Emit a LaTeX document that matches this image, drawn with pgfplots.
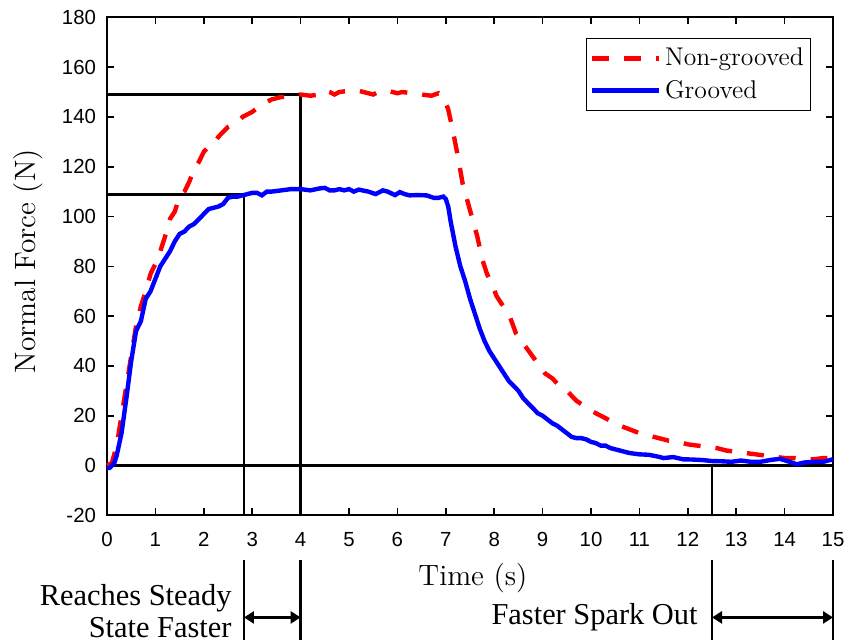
\documentclass[border=0pt]{standalone}
\usepackage{fontspec}
\usepackage{pgfplots}
\pgfplotsset{compat=1.18}
\usetikzlibrary{arrows.meta}
\newfontfamily\ticksf{Liberation Sans}
\newfontfamily\annsf{Liberation Serif}
\pgfplotstableread{
t f
0 0
0.1 1
0.2 8
0.3 20
0.4 32
0.5 44
0.6 56
0.7 64
0.8 70
0.9 77
1.0 81
1.1 86
1.2 92
1.3 99
1.4 102
1.5 108
1.6 110
1.7 114
1.8 119
1.9 122
2.0 126
2.1 128
2.2 129
2.3 132
2.4 134
2.5 136
2.6 137
2.7 138
2.8 140
2.9 141
3.0 142
3.1 143.5
3.2 145
3.3 146
3.4 147
3.5 147.5
3.6 148
3.7 148
3.8 148.5
3.9 149
4.0 149
4.2 148.5
4.4 149
4.5 150.5
4.6 150
4.7 149
4.8 150
5.0 150.5
5.2 150.5
5.4 149.5
5.5 149
5.6 150
5.8 150.5
6.0 149.5
6.1 150
6.3 149.5
6.5 149
6.7 148.5
6.85 149.5
6.95 148
7.05 143
7.15 134
7.25 124
7.35 113
7.45 106
7.55 99
7.65 92
7.75 83
7.85 77
7.95 73
8.05 68
8.15 65
8.3 61
8.45 53
8.6 49
8.75 45
8.9 41
9.05 37
9.2 35
9.35 32
9.5 30
9.7 26
9.85 24
10.0 22
10.2 20
10.4 18
10.6 16
10.8 14.5
11.0 13
11.2 12
11.4 11
11.6 10
11.8 9.5
12.0 8.5
12.2 8
12.4 7.5
12.6 7
12.8 6
13.0 5.5
13.2 5
13.4 4.5
13.6 4
13.8 3.5
14.0 3
14.2 3
14.4 2.5
14.6 2.5
14.8 3
15.0 3
}\nongrooved
\pgfplotstableread{
t f
0 -1
0.05 -1
0.1 0
0.15 1
0.2 4
0.3 13
0.4 27
0.5 42
0.6 54
0.7 58
0.8 67
0.9 70
1.0 75
1.1 80
1.2 83
1.3 86
1.4 90
1.5 93
1.6 94
1.7 96
1.8 97
1.9 99
2.0 101
2.1 103
2.2 103.5
2.3 104
2.4 105
2.5 107.5
2.6 108
2.7 108
2.8 108.5
2.9 109
3.0 109.5
3.1 109.5
3.2 108.5
3.3 110
3.4 110
3.6 110.5
3.8 111
4.0 111
4.2 110.5
4.4 111.3
4.5 111.5
4.6 110.5
4.7 110.5
4.8 111
4.9 110.5
5.0 111
5.1 110
5.2 110.8
5.4 110
5.55 109
5.7 110.5
5.8 110
5.95 108.6
6.05 109.8
6.15 109
6.25 108.5
6.4 108.6
6.6 108.5
6.75 107.5
6.85 107.5
6.95 108
7.0 107
7.05 104
7.1 98
7.2 88
7.3 80
7.4 74
7.5 67
7.6 61
7.7 55
7.8 50
7.9 46
8.0 43
8.1 40
8.2 37
8.3 34
8.4 32
8.5 30
8.6 27
8.7 25
8.8 23
8.9 21
9.0 20
9.1 18.5
9.2 17
9.3 16
9.4 14.5
9.5 13
9.6 11.5
9.7 11
9.8 11
9.9 10.5
10.0 9.5
10.1 9
10.2 8
10.3 8
10.4 7
10.5 6.5
10.6 6
10.8 5
11.0 4.5
11.2 4.3
11.4 3.5
11.5 3
11.7 3.4
11.9 2.5
12.1 2.4
12.3 2.2
12.5 1.8
12.7 1.7
12.9 1.5
13.1 2
13.3 1.5
13.5 1.5
13.7 2.2
13.9 2.7
14.1 1.5
14.25 0.5
14.4 1.2
14.6 1.5
14.8 1.5
15.0 2.5
}\grooved
\begin{document}
\begin{tikzpicture}
\begin{axis}[
  width=363bp, height=249bp, scale only axis,
  xmin=0, xmax=15, ymin=-20, ymax=180,
  xtick={0,1,2,3,4,5,6,7,8,9,10,11,12,13,14,15},
  xticklabels={0,1,2,3,4,5,6,7,8,9,10,11,12,13,14,15},
  ytick={-20,0,20,40,60,80,100,120,140,160,180},
  yticklabels={-20,0,20,40,60,80,100,120,140,160,180},
  tick align=inside, major tick length=3.5bp,
  tick style={black, line width=0.8bp},
  axis line style={black, line width=1bp},
  ticklabel style={font=\ticksf\fontsize{10.2bp}{12bp}\selectfont},
  xticklabel style={yshift=-5bp},
  yticklabel style={xshift=-2bp},
  clip=false,
  xlabel={Time (s)}, ylabel={Normal Force (N)},
  label style={font=\fontsize{14.7bp}{17bp}\selectfont},
  xlabel style={at={(axis description cs:0.504,-0.1265)}, anchor=center},
  ylabel style={at={(axis description cs:-0.109,0.51)}, anchor=center},
  legend style={at={(axis description cs:0.97,0.958)}, anchor=north east,
    draw=black, line width=0.6bp, font=\fontsize{12.8bp}{15bp}\selectfont,
    inner xsep=1.5bp, inner ysep=1.8bp, row sep=0bp,
    nodes={inner xsep=2bp, inner ysep=2.8bp}},
  legend cell align=left,
  legend image code/.code={\draw[#1] (0bp,0bp) -- (33.5bp,0bp);},
]
\draw[black, line width=1.4bp] (axis cs:0,149) -- (axis cs:4,149) -- (axis cs:4,-20);
\draw[black, line width=1.4bp] (axis cs:0,109) -- (axis cs:2.83,109) -- (axis cs:2.83,-20);
\draw[black, line width=1.4bp] (axis cs:0,0) -- (axis cs:15,0);
\draw[black, line width=1.4bp] (axis cs:12.5,0) -- (axis cs:12.5,-20);
\addplot[red, line width=2.2bp, dash pattern=on 8.5bp off 7.5bp] table[x=t,y=f] {\nongrooved};
\addlegendentry{Non-grooved}
\addplot[blue, line width=2.2bp] table[x=t,y=f] {\grooved};
\addlegendentry{Grooved}
% annotations below the axis
\draw[black, line width=1.4bp] (axis cs:2.83,-38.1) -- (axis cs:2.83,-70.2);
\draw[black, line width=1.4bp] (axis cs:4,-38.1) -- (axis cs:4,-70.2);
\draw[black, line width=1.4bp] (axis cs:12.5,-38.1) -- (axis cs:12.5,-70.2);
\draw[black, line width=1.4bp] (axis cs:15,-38.1) -- (axis cs:15,-70.2);
\draw[black, line width=1.5bp, {Triangle[length=5bp,width=6bp]}-{Triangle[length=5bp,width=6bp]}] (axis cs:2.83,-61) -- (axis cs:4,-61);
\draw[black, line width=1.5bp, {Triangle[length=5bp,width=6bp]}-{Triangle[length=5bp,width=6bp]}] (axis cs:12.5,-61) -- (axis cs:15,-61);
\node[anchor=east, align=right, inner sep=0pt, font=\annsf\fontsize{15.2bp}{16bp}\selectfont] at (axis cs:2.58,-58.6) {Reaches Steady\\State Faster};
\node[anchor=east, inner sep=0pt, font=\annsf\fontsize{15.2bp}{16bp}\selectfont] at (axis cs:12.21,-61) {Faster Spark Out};
\coordinate (bbll) at (axis cs:-2.211,-70.22);
\coordinate (bbur) at (axis cs:15.516,186.95);
\end{axis}
\pgfresetboundingbox
\path (bbll) rectangle (bbur);
\end{tikzpicture}
\end{document}
